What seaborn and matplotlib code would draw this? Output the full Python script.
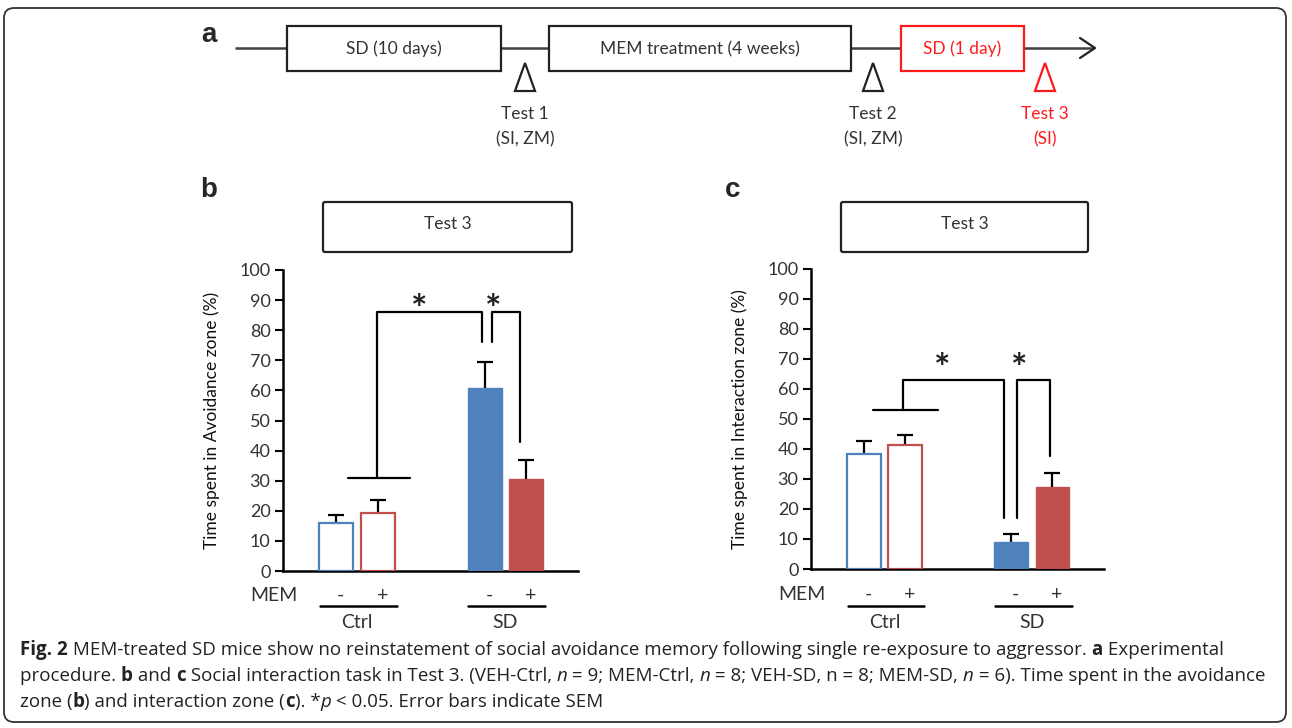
import numpy as np
import pandas as pd
import matplotlib
matplotlib.use("Agg")
import matplotlib.pyplot as plt
import seaborn as sns
from matplotlib.patches import Rectangle, Polygon, FancyBboxPatch

# ---------------- data ----------------
groups = ["Ctrl", "Ctrl", "SD", "SD"]
mem = ["-", "+", "-", "+"]
avoid_mean = [16.0, 19.2, 60.7, 30.6]
avoid_sem = [2.6, 4.4, 8.8, 6.3]
inter_mean = [38.2, 41.3, 8.9, 27.4]
inter_sem = [4.5, 3.2, 2.7, 4.5]
yticks = list(range(0, 101, 10))
ylabel_b = "Time spent in Avoidance zone (%)"
ylabel_c = "Time spent in Interaction zone (%)"

BLUE = "#4F81BD"
RED = "#C0504D"
W, H = 1292, 728

sns.set_style("white")
plt.rcParams["font.family"] = ["Lato", "DejaVu Sans"]

fig = plt.figure(figsize=(W / 100, H / 100), dpi=100)
bg = fig.add_axes([0, 0, 1, 1])
bg.set_xlim(0, W)
bg.set_ylim(H, 0)
bg.axis("off")
bg.patch.set_alpha(0)

# frame
bg.add_patch(FancyBboxPatch((4, 8), W - 10, H - 14, boxstyle="round,pad=0,rounding_size=10",
                            fc="none", ec="#333333", lw=1.3))

# ---------------- panel a ----------------
bg.text(209, 35, "a", fontsize=20, fontweight="bold", family=["Liberation Sans", "DejaVu Sans"],
        ha="center", va="center")
bg.plot([235, 1094], [48, 48], color="#404040", lw=1.8, solid_capstyle="butt", zorder=1)
bg.plot([1080, 1095, 1080], [38, 48, 58], color="#222222", lw=1.6, zorder=1)
boxes = [(287, 501, "SD (10 days)", "black"),
         (549, 851, "MEM treatment (4 weeks)", "black"),
         (901, 1024, "SD (1 day)", "#FF1A1A")]
for x0, x1, lab, col in boxes:
    bg.add_patch(Rectangle((x0, 26), x1 - x0, 45, fc="white", ec=col if col != "black" else "#222222",
                           lw=1.6, zorder=2))
    bg.text((x0 + x1) / 2, 49, lab, fontsize=12.5, color=col if col != "black" else "#333333",
            ha="center", va="center", zorder=3)
tests = [(525, "Test 1", "(SI, ZM)", "#222222"),
         (873, "Test 2", "(SI, ZM)", "#222222"),
         (1045, "Test 3", "(SI)", "#FF1A1A")]
for x, t1, t2, col in tests:
    bg.add_patch(Polygon([[x - 10, 91], [x + 10, 91], [x, 63]], closed=True, fc="white", ec=col, lw=1.6))
    bg.text(x, 114, t1, fontsize=12.5, color=col if col != "#222222" else "#333333", ha="center", va="center")
    bg.text(x, 139, t2, fontsize=12.5, color=col if col != "#222222" else "#333333", ha="center", va="center")


def px_axes(left, right, bottom, top):
    return fig.add_axes([left / W, 1 - bottom / H, (right - left) / W, (bottom - top) / H])


def bar_panel(ax, means, sems, ylabel, brackets, stars, mem_y, base_line):
    df = pd.DataFrame({"group": groups, "MEM": mem, "value": means})
    sns.barplot(data=df, x="group", y="value", hue="MEM", order=["Ctrl", "SD"],
                hue_order=["-", "+"], palette=[BLUE, RED], width=0.56, gap=0.18,
                errorbar=None, legend=False, ax=ax, zorder=3)
    bars = sorted([p for p in ax.patches if p.get_width() > 0], key=lambda p: p.get_x())
    xs = []
    for i, p in enumerate(bars):
        col = BLUE if mem[i] == "-" else RED
        xs.append(p.get_x() + p.get_width() / 2)
        if groups[i] == "Ctrl":
            p.set_facecolor("white")
            p.set_edgecolor(col)
            p.set_linewidth(1.6)
        else:
            p.set_facecolor(col)
            p.set_edgecolor(col)
            p.set_linewidth(1.0)
    _, caps, _ = ax.errorbar(xs, means, yerr=[np.zeros(len(sems)), sems], fmt="none", ecolor="black",
                             elinewidth=1.6, capsize=6, capthick=1.6, zorder=2)
    # keep only the upper caps (one-sided SEM bars)
    tops = [c for c in caps if np.allclose(c.get_ydata(), np.array(means) + np.array(sems))]
    for c in caps:
        if c not in tops:
            c.set_visible(False)
    ax.set_xlim(-0.5, 1.49)
    ax.set_ylim(0, 100)
    ax.set_yticks(yticks)
    ax.set_yticklabels([str(v) for v in yticks], fontsize=13, color="#333333")
    ax.set_xticks([])
    ax.set_xlabel("")
    ax.set_ylabel(ylabel, fontsize=12.5, color="#111111", labelpad=14)
    ax.tick_params(axis="y", direction="out", length=6, width=1.5, color="black", left=True, pad=3)
    for s in ["top", "right"]:
        ax.spines[s].set_visible(False)
    for s in ["left", "bottom"]:
        ax.spines[s].set_color("black")
        ax.spines[s].set_linewidth(1.8)
    ax.patch.set_alpha(0)
    # significance brackets
    for xx, yy in brackets:
        ax.plot(xx, yy, color="black", lw=1.6, clip_on=False, zorder=4)
    for sx, sy in stars:
        ax.text(sx, sy - 1.5, "*", fontsize=28, fontweight="bold", ha="center", va="center",
                color="#222222")
    # MEM row and group labels
    trans = ax.get_xaxis_transform()
    ax.text(-0.56, mem_y, "MEM", fontsize=14, ha="center", va="center", transform=trans, color="#333333")
    for i, x in enumerate(xs):
        ax.text(x + 0.03, mem_y, mem[i], fontsize=14, ha="center", va="center", transform=trans,
                color="#333333")
    for gi, g in enumerate(["Ctrl", "SD"]):
        ax.plot([gi - 0.25, gi + 0.27], [base_line, base_line], color="black", lw=1.8,
                transform=trans, clip_on=False)
        ax.text(gi, base_line - 0.055, g, fontsize=14, ha="center", va="center", transform=trans,
                color="#333333")
    return xs


# ---------------- panel b ----------------
axb = px_axes(283, 578, 571, 270)
brackets_b = [([-0.062, 0.355], [31, 31]),
              ([0.133, 0.133, 0.845, 0.845], [31, 86, 86, 76]),
              ([0.911, 0.911, 1.10, 1.10], [76, 86, 86, 43])]
stars_b = [(0.42, 88), (0.915, 88)]
bar_panel(axb, avoid_mean, avoid_sem, ylabel_b, brackets_b, stars_b, -0.08, -0.116)

# ---------------- panel c ----------------
axc = px_axes(811, 1104, 569, 268.7)
brackets_c = [([-0.078, 0.363], [53, 53]),
              ([0.125, 0.125, 0.81, 0.81], [53, 63, 63, 17]),
              ([0.898, 0.898, 1.12, 1.12], [17, 63, 63, 37.5])]
stars_c = [(0.39, 68), (0.915, 68)]
bar_panel(axc, inter_mean, inter_sem, ylabel_c, brackets_c, stars_c, -0.085, -0.122)

# panel letters and Test 3 boxes
for lx, lab in [(209, "b"), (733, "c")]:
    bg.text(lx, 190, lab, fontsize=20, fontweight="bold", family=["Liberation Sans", "DejaVu Sans"],
            ha="center", va="center")
for x0, x1 in [(323, 572), (841, 1088)]:
    bg.add_patch(FancyBboxPatch((x0, 202), x1 - x0, 50, boxstyle="round,pad=0,rounding_size=2",
                                fc="white", ec="#222222", lw=1.6))
    bg.text((x0 + x1) / 2, 224, "Test 3", fontsize=12.5, ha="center", va="center", color="#333333")

# ---------------- caption ----------------
renderer = fig.canvas.get_renderer()
CAP_FONT = ["Open Sans", "DejaVu Sans"]
CAP_SIZE = 13.5


def seg_width(s, **kw):
    t1 = bg.text(0, 0, "|" + s + "|", fontsize=CAP_SIZE, family=CAP_FONT, **kw)
    t2 = bg.text(0, 0, "||", fontsize=CAP_SIZE, family=CAP_FONT, **kw)
    w = t1.get_window_extent(renderer).width - t2.get_window_extent(renderer).width
    t1.remove()
    t2.remove()
    return w


def rich_line(x, y, segs):
    for s, kw in segs:
        bg.text(x, y, s, fontsize=CAP_SIZE, family=CAP_FONT, va="center", ha="left",
                color="#222222", **kw)
        x += seg_width(s, **kw)


B = {"fontweight": "bold"}
I = {"fontstyle": "italic"}
N = {}
cap_lines = [
    [("Fig. 2", B), (" MEM-treated SD mice show no reinstatement of social avoidance memory following single re-exposure to aggressor. ", N),
     ("a", B), (" Experimental", N)],
    [("procedure. ", N), ("b", B), (" and ", N), ("c", B),
     (" Social interaction task in Test 3. (VEH-Ctrl, ", N), ("n", I), (" = 9; MEM-Ctrl, ", N), ("n", I),
     (" = 8; VEH-SD, n = 8; MEM-SD, ", N), ("n", I), (" = 6). Time spent in the avoidance", N)],
    [("zone (", N), ("b", B), (") and interaction zone (", N), ("c", B), ("). *", N), ("p", I),
     (" < 0.05. Error bars indicate SEM", N)],
]
for k, line in enumerate(cap_lines):
    rich_line(20, 650 + 26 * k, line)

fig.savefig("out.png", dpi=100)
